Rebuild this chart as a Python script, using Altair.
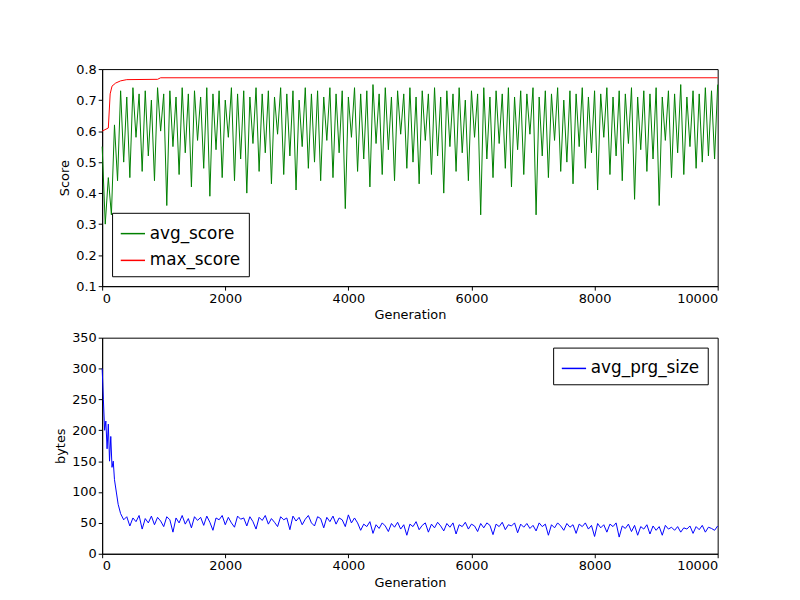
import altair as alt
import pandas as pd

avg_score = [
    0.55, 0.30, 0.45, 0.33, 0.62, 0.44, 0.73, 0.50, 0.71, 0.45,
    0.74, 0.58, 0.72, 0.47, 0.73, 0.52, 0.70, 0.44, 0.74, 0.60,
    0.72, 0.36, 0.73, 0.55, 0.71, 0.46, 0.74, 0.53, 0.72, 0.42,
    0.73, 0.57, 0.71, 0.48, 0.74, 0.39, 0.72, 0.54, 0.73, 0.45,
    0.70, 0.58, 0.74, 0.44, 0.72, 0.51, 0.73, 0.40, 0.71, 0.56,
    0.74, 0.47, 0.72, 0.53, 0.73, 0.43, 0.71, 0.59, 0.74, 0.46,
    0.72, 0.52, 0.73, 0.41, 0.70, 0.55, 0.74, 0.48, 0.72, 0.50,
    0.73, 0.44, 0.71, 0.57, 0.74, 0.45, 0.72, 0.53, 0.73, 0.35,
    0.71, 0.58, 0.74, 0.47, 0.72, 0.51, 0.73, 0.42, 0.75, 0.56,
    0.72, 0.46, 0.74, 0.54, 0.71, 0.44, 0.73, 0.59, 0.72, 0.48,
    0.74, 0.50, 0.71, 0.43, 0.73, 0.57, 0.72, 0.46, 0.74, 0.52,
    0.71, 0.40, 0.73, 0.55, 0.72, 0.47, 0.74, 0.53, 0.70, 0.44,
    0.73, 0.58, 0.72, 0.33, 0.74, 0.51, 0.71, 0.45, 0.73, 0.56,
    0.72, 0.48, 0.74, 0.42, 0.71, 0.54, 0.73, 0.46, 0.72, 0.59,
    0.74, 0.33, 0.71, 0.52, 0.73, 0.45, 0.72, 0.57, 0.74, 0.47,
    0.70, 0.50, 0.73, 0.43, 0.72, 0.55, 0.74, 0.48, 0.71, 0.53,
    0.73, 0.41, 0.72, 0.58, 0.74, 0.46, 0.71, 0.52, 0.73, 0.44,
    0.72, 0.56, 0.74, 0.38, 0.71, 0.54, 0.73, 0.47, 0.72, 0.51,
    0.74, 0.36, 0.71, 0.57, 0.73, 0.45, 0.72, 0.53, 0.75, 0.46,
    0.71, 0.55, 0.73, 0.48, 0.72, 0.50, 0.74, 0.52, 0.73, 0.51,
    0.75,
]
score_gen = [i * 50 for i in range(len(avg_score))]

max_gen = [0, 100, 130, 160, 220, 300, 400, 900, 950, 10000]
max_score = [0.60, 0.61, 0.72, 0.745, 0.755, 0.762, 0.766, 0.767, 0.772, 0.772]

# avg_prg_size sampled (approximately)
prg_gen = [0, 20, 40, 60, 80, 100, 120, 140, 160, 180, 200, 230, 260, 300, 350] + \
    [400 + 50 * i for i in range(193)]
prg_head = [300, 250, 200, 215, 170, 210, 150, 190, 140, 150, 120, 100, 80, 65, 55]
prg_mid = [
    60, 45, 58, 52, 62, 40, 57, 50, 61, 47, 59, 53, 44, 60, 55, 35, 58, 50, 62, 48,
    57, 42, 60, 54, 59, 46, 61, 51, 38, 58, 55, 62, 47, 59, 50, 43, 61, 56, 58, 45,
    60, 52, 40, 59, 54, 62, 48, 57, 51, 44, 60, 55, 58, 39, 61, 53, 59, 47, 56, 62,
    50, 45, 60, 57, 42, 59, 52, 61, 48, 58, 55, 44, 63, 50, 58,
]
prg_tail = [
    50, 38, 48, 44, 52, 33, 47, 41, 50, 45, 36, 49, 43, 51, 40, 47, 30, 48, 44, 52,
    39, 46, 50, 35, 48, 42, 51, 45, 37, 49, 43, 50, 32, 47, 44, 51, 40, 48, 45, 36,
    49, 42, 50, 46, 31, 48, 44, 51, 39, 47, 45, 50, 34, 48, 43, 49, 41, 46, 37, 50,
    44, 48, 30, 47, 42, 50, 45, 38, 49, 43, 47, 33, 48, 44, 50, 40, 46, 28, 49, 42,
    47, 35, 48, 44, 50, 27, 45, 41, 48, 36, 46, 30, 44, 40, 47, 32, 45, 38, 44, 30,
    46, 40, 43, 38, 44, 35, 42, 40, 45, 33, 44, 39, 46, 35, 43, 41, 38, 45,
]
avg_prg_size = prg_head + prg_mid + prg_tail
prg_gen = prg_gen[:len(avg_prg_size)]

FONT = "DejaVu Sans"

score_df = pd.concat([
    pd.DataFrame({"gen": score_gen, "value": avg_score, "series": "avg_score"}),
    pd.DataFrame({"gen": max_gen, "value": max_score, "series": "max_score"}),
])
prg_df = pd.DataFrame({"gen": prg_gen, "value": avg_prg_size, "series": "avg_prg_size"})

x_axis = alt.Axis(values=list(range(0, 10001, 2000)), grid=False, title="Generation",
                  format="d", tickSize=4)

top = alt.Chart(score_df).mark_line(strokeWidth=1).encode(
    x=alt.X("gen:Q", scale=alt.Scale(domain=[0, 10000], nice=False), axis=x_axis),
    y=alt.Y("value:Q", scale=alt.Scale(domain=[0.1, 0.8], nice=False),
            axis=alt.Axis(values=[i / 10 for i in range(1, 9)], format=".1f",
                          grid=False, title="Score", tickSize=4)),
    color=alt.Color("series:N",
                    scale=alt.Scale(domain=["avg_score", "max_score"], range=["#008000", "#ff0000"]),
                    legend=alt.Legend(title=None, orient="bottom-left", offset=10)),
).properties(width=621, height=219)

bottom = alt.Chart(prg_df).mark_line(strokeWidth=1, color="#0000ff").encode(
    x=alt.X("gen:Q", scale=alt.Scale(domain=[0, 10000], nice=False), axis=x_axis),
    y=alt.Y("value:Q", scale=alt.Scale(domain=[0, 350], nice=False),
            axis=alt.Axis(values=list(range(0, 351, 50)), grid=False, title="bytes", tickSize=4)),
    color=alt.Color("series:N", scale=alt.Scale(domain=["avg_prg_size"], range=["#0000ff"]),
                    legend=alt.Legend(title=None, orient="top-right", offset=10)),
).properties(width=621, height=218)

chart = alt.vconcat(top, bottom, spacing=8).resolve_scale(color="independent").properties(
    padding={"left": 46, "top": 52, "right": 72, "bottom": 5},
    background="white",
).configure_view(stroke="black", strokeWidth=1).configure_axis(
    labelFont=FONT, titleFont=FONT, labelFontSize=13, titleFontSize=13,
    labelColor="black", titleColor="black", domainColor="black", tickColor="black",
    titleFontWeight="normal", titlePadding=4,
).configure_legend(
    labelFont=FONT, labelFontSize=17, symbolType="stroke", symbolStrokeWidth=1.5,
    symbolSize=600, strokeColor="black", fillColor="white", padding=8, cornerRadius=0,
    labelColor="black", rowPadding=6,
)

chart.save("out.html", embed_options={"renderer": "svg", "actions": False})
